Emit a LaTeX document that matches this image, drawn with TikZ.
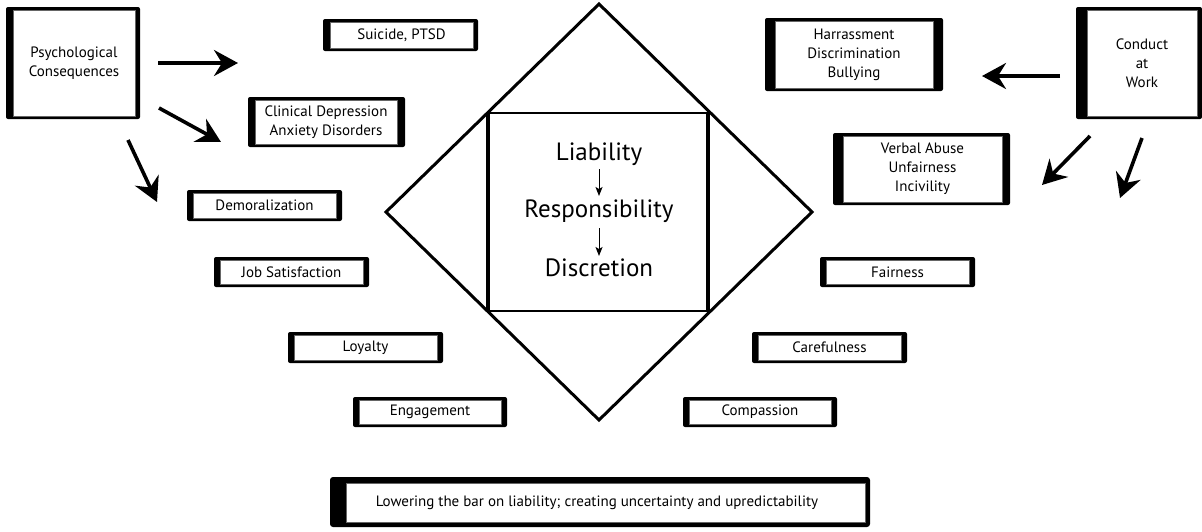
\documentclass[tikz,border=0pt]{standalone}
\usepackage{fontspec}
\setmainfont{PT Sans}
\usetikzlibrary{arrows.meta}
\tikzset{
  bigarrow/.style={line width=3.6pt, -{Stealth[length=24pt,width=26pt,inset=8pt]}},
  smallarrow/.style={line width=1pt, -{Stealth[length=9pt,width=7pt,inset=2pt]}},
  boxtext/.style={align=center, font=\fontsize{15}{19}\selectfont, inner sep=0pt},
  midtext/.style={font=\fontsize{25}{28}\selectfont, inner sep=0pt},
}
% #1 name, #2 x1, #3 y1, #4 x2, #5 y2, #6 left band, #7 right band, #8 text
\newcommand\tbox[8]{%
  \fill[rounded corners=2pt] (#2,#3) rectangle (#4,#5);
  \filldraw[fill=white, draw=black!60, line width=0.5pt] (#2+#6,#3+3) rectangle (#4-#7,#5-3);
  \node[boxtext] (#1) at ({(#2+#6+#4-#7)/2},{(#3+#5)/2}) {#8};
}
\begin{document}
\begin{tikzpicture}[x=1pt,y=-1pt]
\useasboundingbox[fill=white] (0,0) rectangle (1202,531);

% diamond and inner square
\draw[line width=3pt, line join=miter] (599,4) -- (812,212) -- (599,420) -- (386,212) -- cycle;
\draw[line width=2pt] (488,113) -- (708,113);
\draw[line width=2pt] (488,311) -- (708,311);
\draw[line width=3.5pt] (488,112) -- (488,312);
\draw[line width=3.5pt] (708,112) -- (708,312);
\node[midtext] (lia) at (599,154) {Liability};
\node[midtext] (res) at (599,211) {Responsibility};
\node[midtext] (dis) at (599,268) {Discretion};
\coordinate (l1) at (599,169);
\coordinate (r1) at (599,196);
\coordinate (r2) at (599,228);
\coordinate (d1) at (599,256);
\draw[smallarrow] (l1) -- (r1);
\draw[smallarrow] (r2) -- (d1);

% left boxes
\tbox{psy}{6}{7}{140}{119}{7}{5}{Psychological\\Consequences}
\tbox{sui}{323}{19}{478}{51}{7}{5}{Suicide, PTSD}
\tbox{cli}{248}{97}{405}{147}{7}{8}{Clinical Depression\\Anxiety Disorders}
\tbox{dem}{187}{190}{342}{221}{6}{6}{Demoralization}
\tbox{job}{214}{257}{369}{287}{6}{6}{Job Satisfaction}
\tbox{loy}{288}{332}{443}{363}{6}{6}{Loyalty}
\tbox{eng}{353}{397}{507}{427}{6}{6}{Engagement}

% right boxes
\tbox{har}{765}{18}{943}{91}{10}{10}{Harrassment\\Discrimination\\Bullying}
\tbox{con}{1076}{7}{1202}{119}{11}{5}{Conduct\\at\\Work}
\tbox{ver}{833}{133}{1010}{205}{10}{8}{Verbal Abuse\\Unfairness\\Incivility}
\tbox{fai}{820}{257}{975}{287}{6}{6}{Fairness}
\tbox{car}{752}{332}{907}{363}{6}{6}{Carefulness}
\tbox{com}{683}{397}{837}{427}{6}{6}{Compassion}

% bottom box
\fill[rounded corners=3pt] (330,477) rectangle (870,527);
\filldraw[fill=white, draw=black!60, line width=0.5pt] (346,483) rectangle (865,522);
\node[boxtext] (low) at (597,502.5) {Lowering the bar on liability; creating uncertainty and upredictability};

% arrow end points
\coordinate (a1s) at (158,63);  \coordinate (a1e) at (238,63);
\coordinate (a2s) at (159,108); \coordinate (a2e) at (221,142);
\coordinate (a3s) at (128,140); \coordinate (a3e) at (157,202);
\coordinate (b1s) at (1060,76); \coordinate (b1e) at (982,76);
\coordinate (b2s) at (1090,136); \coordinate (b2e) at (1042,185);
\coordinate (b3s) at (1142,138); \coordinate (b3e) at (1120,198);
\draw[bigarrow] (a1s) -- (a1e);
\draw[bigarrow] (a2s) -- (a2e);
\draw[bigarrow] (a3s) -- (a3e);
\draw[bigarrow] (b1s) -- (b1e);
\draw[bigarrow] (b2s) -- (b2e);
\draw[bigarrow] (b3s) -- (b3e);
\end{tikzpicture}
\end{document}
